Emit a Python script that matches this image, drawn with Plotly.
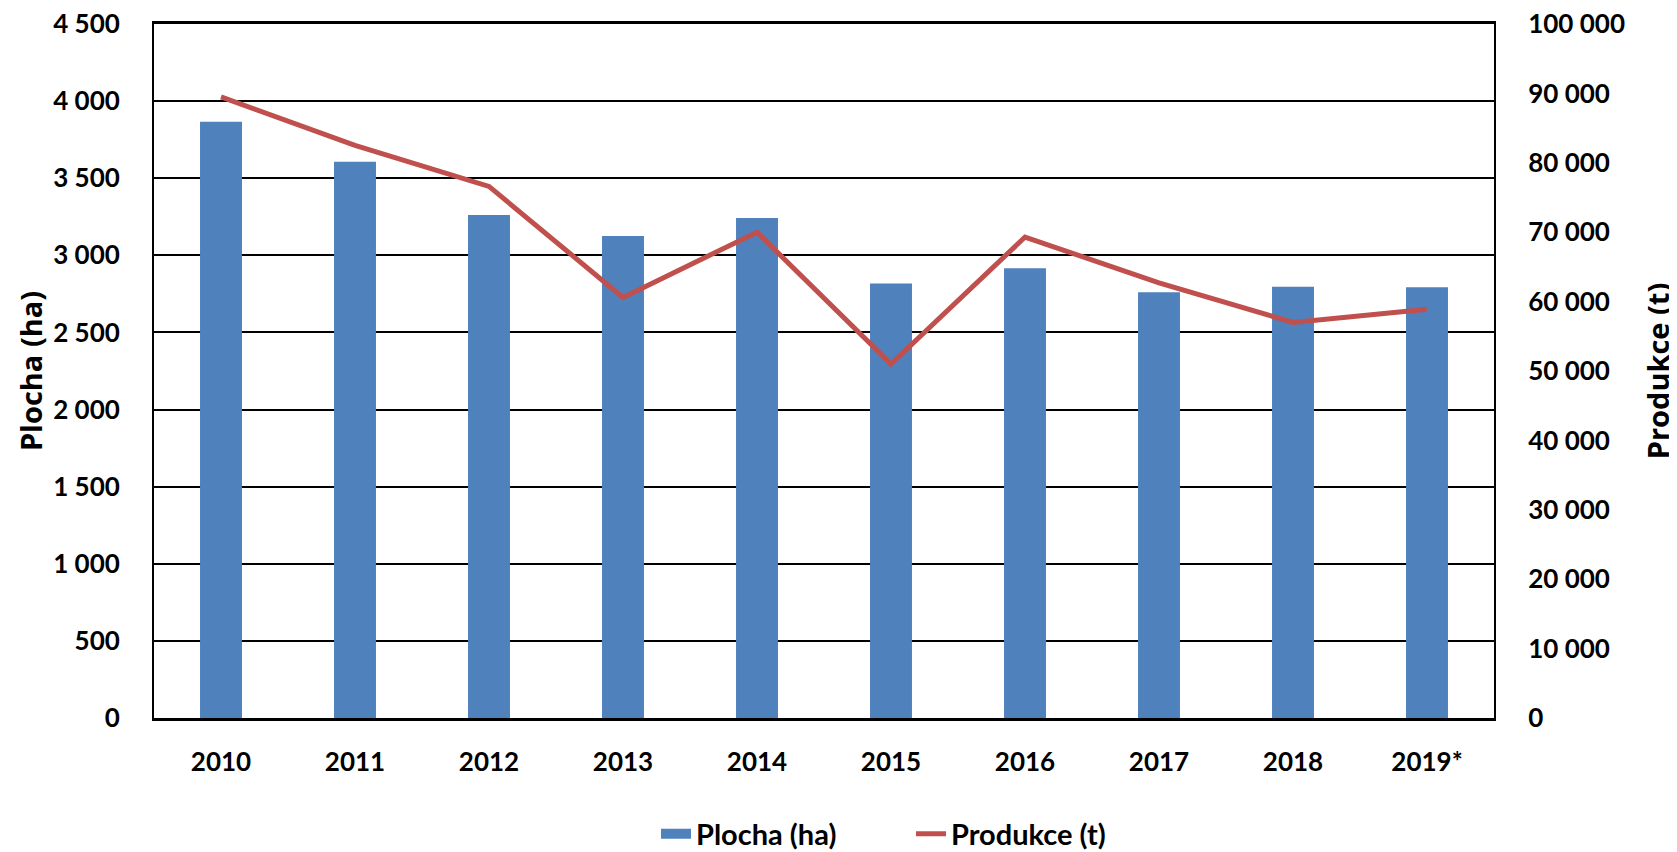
import plotly.graph_objects as go

years = ["2010", "2011", "2012", "2013", "2014", "2015", "2016", "2017", "2018", "2019*"]
plocha_ha = [3866, 3607, 3261, 3125, 3242, 2818, 2916, 2760, 2797, 2793]
produkce_t = [89500, 82500, 76600, 60600, 70000, 51000, 69300, 62700, 57000, 58900]

left_ticks = list(range(0, 4501, 500))
right_ticks = list(range(0, 100001, 10000))

BLUE = "#4F81BD"
RED = "#C0504D"

tick_font = dict(family="Lato", size=26, color="black", weight="bold")
title_font = dict(family="Open Sans", size=29, color="black", weight="bold")

# page body adds an 8px offset; layout values below compensate for it
OFF = 8
W, H = 1677 - OFF, 852 - OFF
PL, PR, PT, PB = 154 - OFF, 1494 - OFF, 24 - OFF, 718 - OFF

fig = go.Figure()
fig.add_trace(go.Bar(x=years, y=plocha_ha, name="Plocha (ha)", marker=dict(color=BLUE, line=dict(width=0)),
                     yaxis="y", showlegend=False))
# legend-only entry that mimics the wide rectangular bar swatch
fig.add_trace(go.Scatter(x=[None], y=[None], name="Plocha (ha)", mode="lines",
                         line=dict(color=BLUE, width=18), yaxis="y", showlegend=True))
fig.add_trace(go.Scatter(x=years, y=produkce_t, name="Produkce (t)", mode="lines",
                         line=dict(color=RED, width=5), yaxis="y2"))

fig.update_layout(
    width=W, height=H,
    margin=dict(l=PL, r=W - PR, t=PT, b=H - PB, autoexpand=False),
    paper_bgcolor="white", plot_bgcolor="white",
    separators=", ",
    bargap=0.687,
    showlegend=True,
    legend=dict(orientation="h", x=(656 - 154) / 1340, xanchor="left", y=(718 - 834) / 694, yanchor="middle",
                font=dict(family="Lato", size=29, color="black", weight="bold"),
                traceorder="normal", entrywidth=210, entrywidthmode="pixels"),
    xaxis=dict(type="category", showgrid=False, showline=True, linecolor="black", linewidth=3, mirror=True,
               ticks="", tickfont=tick_font, ticklabelstandoff=19, automargin=False),
    yaxis=dict(range=[0, 4500], tickvals=left_ticks, tickformat=",d", showgrid=True,
               gridcolor="black", gridwidth=2, showline=True, linecolor="black", linewidth=2,
               ticks="", tickfont=tick_font, ticklabelstandoff=27, zeroline=False, automargin=False,
               ticklabeloverflow="allow",
               title=dict(text="Plocha (ha)", font=title_font, standoff=2)),
    yaxis2=dict(range=[0, 100000], tickvals=right_ticks, tickformat=",d", overlaying="y", side="right",
                showgrid=False, showline=True, linecolor="black", linewidth=2, ticks="",
                tickfont=tick_font, ticklabelstandoff=27, zeroline=False, automargin=False,
                ticklabeloverflow="allow",
                title=dict(text="Produkce (t)", font=title_font, standoff=25)),
)

fig.write_html("out.html")
